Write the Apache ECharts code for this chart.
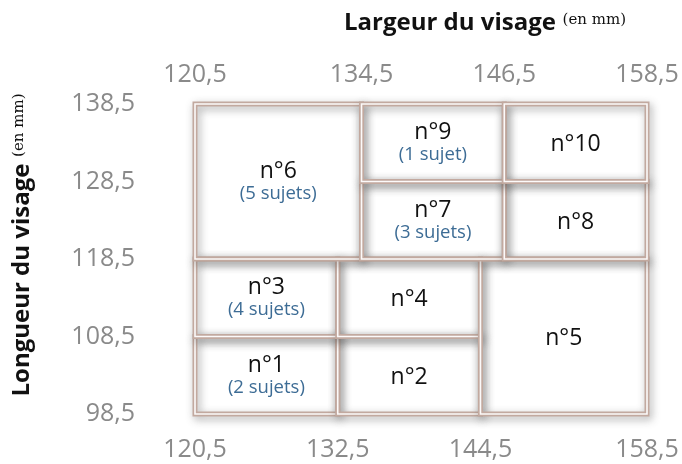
<!DOCTYPE html>
<html>
<head>
<meta charset="utf-8">
<script src="https://cdn.jsdelivr.net/npm/echarts@6/dist/echarts.min.js"></script>
<style>
  html, body { margin: 0; padding: 0; background: #fff; }
  #chart { width: 682px; height: 464px; }
</style>
</head>
<body>
<div id="chart"></div>
<script>
// zones de tailles de masque (largeur x longueur du visage, en mm)
const cellNames = ['n°1', 'n°2', 'n°3', 'n°4', 'n°5', 'n°6', 'n°7', 'n°8', 'n°9', 'n°10'];
const xFrom = [120.5, 132.5, 120.5, 132.5, 144.5, 120.5, 134.5, 146.5, 134.5, 146.5];
const xTo   = [132.5, 144.5, 132.5, 144.5, 158.5, 134.5, 146.5, 158.5, 146.5, 158.5];
const yFrom = [98.5, 98.5, 108.5, 108.5, 98.5, 118.5, 118.5, 118.5, 128.5, 128.5];
const yTo   = [108.5, 108.5, 118.5, 118.5, 118.5, 138.5, 128.5, 128.5, 138.5, 138.5];
const subjects = [2, null, 4, null, null, 5, 3, null, 1, null];

const topTicks = [120.5, 134.5, 146.5, 158.5];
const bottomTicks = [120.5, 132.5, 144.5, 158.5];
const leftTicks = [98.5, 108.5, 118.5, 128.5, 138.5];

const fmt = v => String(v).replace('.', ',');
const subText = n => n == null ? '' : '(' + n + (n > 1 ? ' sujets)' : ' sujet)');

const cellData = cellNames.map((name, i) => [xFrom[i], xTo[i], yFrom[i], yTo[i], i]);

const labelStyle = { color: '#8a8a8a', fontSize: 25, fontFamily: 'Open Sans' };
const FRAME = '#c2a99f';

const chart = echarts.init(document.getElementById('chart'));

function frameItem(params, api) {
  const a = api.coord([api.value(0), api.value(3)]);
  const b = api.coord([api.value(1), api.value(2)]);
  const shape = { x: a[0], y: a[1], width: b[0] - a[0], height: b[1] - a[1] };
  return {
    type: 'group',
    children: [
      {
        type: 'rect', shape: shape,
        style: {
          fill: null, stroke: FRAME, lineWidth: 5,
          shadowBlur: 8, shadowColor: 'rgba(50,50,50,0.42)', shadowOffsetX: 2, shadowOffsetY: 3
        }
      },
      {
        type: 'rect', shape: shape,
        style: { fill: null, stroke: '#fcfafa', lineWidth: 1.6 }
      }
    ]
  };
}

function textItem(params, api) {
  const i = api.value(4);
  const a = api.coord([api.value(0), api.value(3)]);
  const b = api.coord([api.value(1), api.value(2)]);
  const cx = (a[0] + b[0]) / 2, cy = (a[1] + b[1]) / 2;
  const sub = subText(subjects[i]);
  const children = [{
    type: 'text',
    style: {
      x: cx, y: sub ? cy - 10 : cy + 2, text: cellNames[i],
      align: 'center', verticalAlign: 'middle',
      fill: '#111', fontSize: 23, fontFamily: 'Open Sans'
    }
  }];
  if (sub) {
    children.push({
      type: 'text',
      style: {
        x: cx, y: cy + 12, text: sub,
        align: 'center', verticalAlign: 'middle',
        fill: '#3d6c95', fontSize: 18.5, fontFamily: 'Open Sans'
      }
    });
  }
  return { type: 'group', children: children };
}

chart.setOption({
  backgroundColor: '#fff',
  animation: false,
  grid: { left: 195, right: 35, top: 104, bottom: 50 },
  graphic: [
    {
      type: 'text', left: 344, top: 11,
      style: {
        text: '{b|Largeur du visage}  {s|(en mm)}',
        rich: {
          b: { fontSize: 24, fontWeight: 'bold', fill: '#111', fontFamily: 'Open Sans', verticalAlign: 'bottom' },
          s: { fontSize: 15, fill: '#111', fontFamily: 'DejaVu Serif', verticalAlign: 'bottom', padding: [0, 0, 7, 0] }
        }
      }
    },
    {
      type: 'text', x: 22, y: 245, rotation: Math.PI / 2,
      style: {
        text: '{b|Longueur du visage}  {s|(en mm)}',
        align: 'center', verticalAlign: 'middle',
        rich: {
          b: { fontSize: 24, fontWeight: 'bold', fill: '#111', fontFamily: 'Open Sans', verticalAlign: 'bottom' },
          s: { fontSize: 15, fill: '#111', fontFamily: 'DejaVu Serif', verticalAlign: 'bottom', padding: [0, 0, 7, 0] }
        }
      }
    }
  ],
  xAxis: [
    {
      type: 'value', position: 'bottom', min: 120.5, max: 158.5,
      axisLine: { show: false }, axisTick: { show: false }, splitLine: { show: false },
      axisLabel: Object.assign({ customValues: bottomTicks, formatter: fmt, margin: 23 }, labelStyle)
    },
    {
      type: 'value', position: 'top', min: 120.5, max: 158.5,
      axisLine: { show: false }, axisTick: { show: false }, splitLine: { show: false },
      axisLabel: Object.assign({ customValues: topTicks, formatter: fmt, margin: 17 }, labelStyle)
    }
  ],
  yAxis: {
    type: 'value', min: 98.5, max: 138.5,
    axisLine: { show: false }, axisTick: { show: false }, splitLine: { show: false },
    axisLabel: Object.assign({ customValues: leftTicks, formatter: fmt, margin: 60 }, labelStyle)
  },
  series: [
    {
      type: 'custom', name: 'cadres', z: 2,
      renderItem: frameItem, data: cellData,
      encode: { x: [0, 1], y: [2, 3] }
    },
    {
      type: 'custom', name: 'zones', z: 3,
      renderItem: textItem, data: cellData,
      encode: { x: [0, 1], y: [2, 3] }
    }
  ]
});
</script>
</body>
</html>
